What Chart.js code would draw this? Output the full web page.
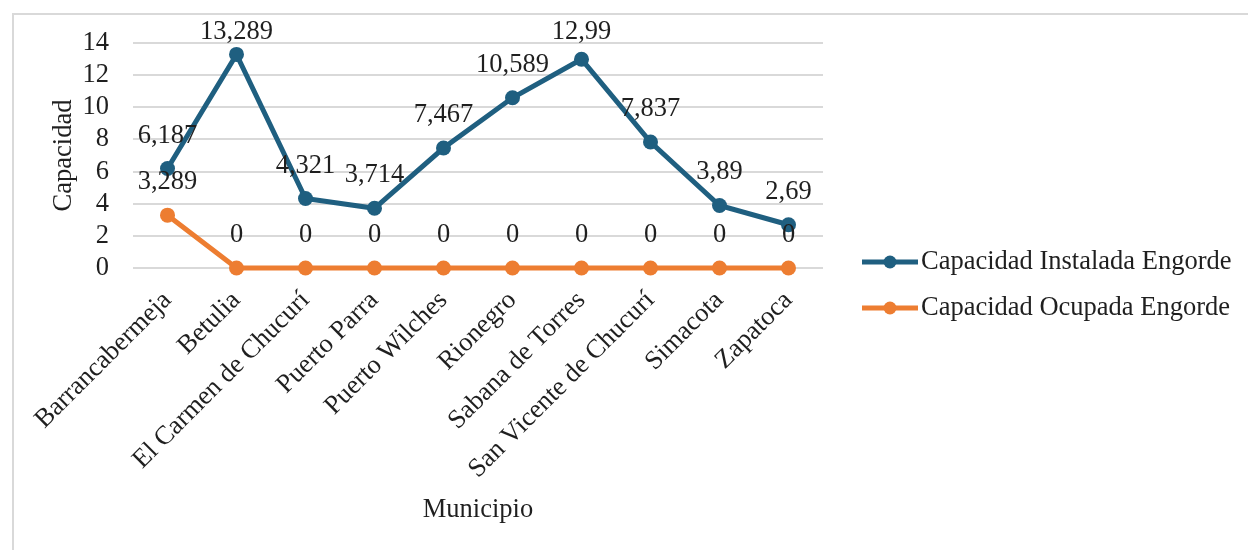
<!DOCTYPE html>
<html>
<head>
<meta charset="utf-8">
<script src="https://cdn.jsdelivr.net/npm/chart.js@4.4.1/dist/chart.umd.min.js"></script>
<style>
  body { margin: 0; background: #fff; }
  #wrap { position: relative; width: 1248px; height: 550px; overflow: hidden; }
  #frame { position: absolute; left: 12px; top: 13px; width: 1300px; height: 600px; border: 2px solid #d9d9d9; }
  #chart { position: absolute; left: 0; top: 0; }
</style>
</head>
<body>
<div id="wrap">
  <div id="frame"></div>
  <canvas id="chart" width="1248" height="550"></canvas>
</div>
<script>
const municipios = [
    'Barrancabermeja', 'Betulia', 'El Carmen de Chucurí', 'Puerto Parra', 'Puerto Wilches',
    'Rionegro', 'Sabana de Torres', 'San Vicente de Chucurí', 'Simacota', 'Zapatoca'
];
const instalada = [6.187, 13.289, 4.321, 3.714, 7.467, 10.589, 12.99, 7.837, 3.89, 2.69];
const ocupada = [3.289, 0, 0, 0, 0, 0, 0, 0, 0, 0];
const yTicks = [0, 2, 4, 6, 8, 10, 12, 14];

const FONT = "'Liberation Serif', 'Times New Roman', serif";
const FS = 26.5;
const TXT = '#1f1f1f';
const BLUE = '#1F5F80';
const ORANGE = '#ED7D31';

// numero con coma decimal, como en el original
function fmt(v) {
    return String(v).replace('.', ',');
}

// etiquetas encima de cada punto
const labelPlugin = {
    id: 'pointLabels',
    afterDatasetsDraw(chart) {
        const ctx = chart.ctx;
        ctx.save();
        ctx.font = FS + 'px ' + FONT;
        ctx.fillStyle = TXT;
        ctx.textAlign = 'center';
        ctx.textBaseline = 'middle';
        chart.data.datasets.forEach((ds, i) => {
            const meta = chart.getDatasetMeta(i);
            meta.data.forEach((pt, j) => {
                const y = Math.max(pt.y - 33, 32);
                ctx.fillText(fmt(ds.data[j]), pt.x, y);
            });
        });
        ctx.restore();
    }
};

// leyenda a la derecha (linea con punto)
const legendPlugin = {
    id: 'sideLegend',
    afterDraw(chart) {
        const ctx = chart.ctx;
        const x0 = 862, x1 = 918;
        const ys = [262, 308];
        ctx.save();
        chart.data.datasets.forEach((ds, i) => {
            const y = ys[i];
            ctx.strokeStyle = ds.borderColor;
            ctx.lineWidth = 5;
            ctx.beginPath();
            ctx.moveTo(x0, y);
            ctx.lineTo(x1, y);
            ctx.stroke();
            ctx.fillStyle = ds.borderColor;
            ctx.beginPath();
            ctx.arc((x0 + x1) / 2, y, 6.5, 0, Math.PI * 2);
            ctx.fill();
            ctx.fillStyle = TXT;
            ctx.font = FS + 'px ' + FONT;
            ctx.textAlign = 'left';
            ctx.textBaseline = 'middle';
            ctx.fillText(ds.label, 921, y);
        });
        ctx.restore();
    }
};

const ctx = document.getElementById('chart').getContext('2d');
new Chart(ctx, {
    type: 'line',
    data: {
        labels: municipios,
        datasets: [
            {
                label: 'Capacidad Instalada Engorde',
                data: instalada,
                borderColor: BLUE,
                backgroundColor: BLUE,
                borderWidth: 5,
                pointRadius: 7.5,
                pointHoverRadius: 7.5,
                pointBorderWidth: 0,
                fill: false,
                clip: false,
                tension: 0
            },
            {
                label: 'Capacidad Ocupada Engorde',
                data: ocupada,
                borderColor: ORANGE,
                backgroundColor: ORANGE,
                borderWidth: 5,
                pointRadius: 7.5,
                pointHoverRadius: 7.5,
                pointBorderWidth: 0,
                fill: false,
                clip: false,
                tension: 0
            }
        ]
    },
    options: {
        responsive: false,
        animation: false,
        layout: { padding: { left: 30, top: 43, right: 425, bottom: 0 } },
        plugins: {
            legend: { display: false },
            tooltip: { enabled: false }
        },
        scales: {
            x: {
                offset: true,
                grid: { display: false, drawTicks: false },
                border: { display: false },
                ticks: {
                    minRotation: 45,
                    maxRotation: 45,
                    autoSkip: false,
                    padding: 17,
                    color: TXT,
                    font: { family: FONT, size: FS }
                },
                title: {
                    display: true,
                    text: 'Municipio',
                    color: TXT,
                    font: { family: FONT, size: FS },
                    padding: { top: 0, bottom: 24 }
                },
                afterFit(scale) { scale.height = 282; }
            },
            y: {
                min: 0,
                max: 14,
                afterBuildTicks(scale) { scale.ticks = yTicks.map(v => ({ value: v })); },
                grid: { color: '#d9d9d9', lineWidth: 2, drawTicks: false },
                border: { display: false },
                ticks: {
                    autoSkip: false,
                    padding: 24,
                    color: TXT,
                    font: { family: FONT, size: FS }
                },
                title: {
                    display: true,
                    text: 'Capacidad',
                    color: TXT,
                    font: { family: FONT, size: FS },
                    padding: { top: 18, bottom: 0 }
                },
                afterFit(scale) { scale.width = 103; }
            }
        }
    },
    plugins: [labelPlugin, legendPlugin]
});
</script>
</body>
</html>
